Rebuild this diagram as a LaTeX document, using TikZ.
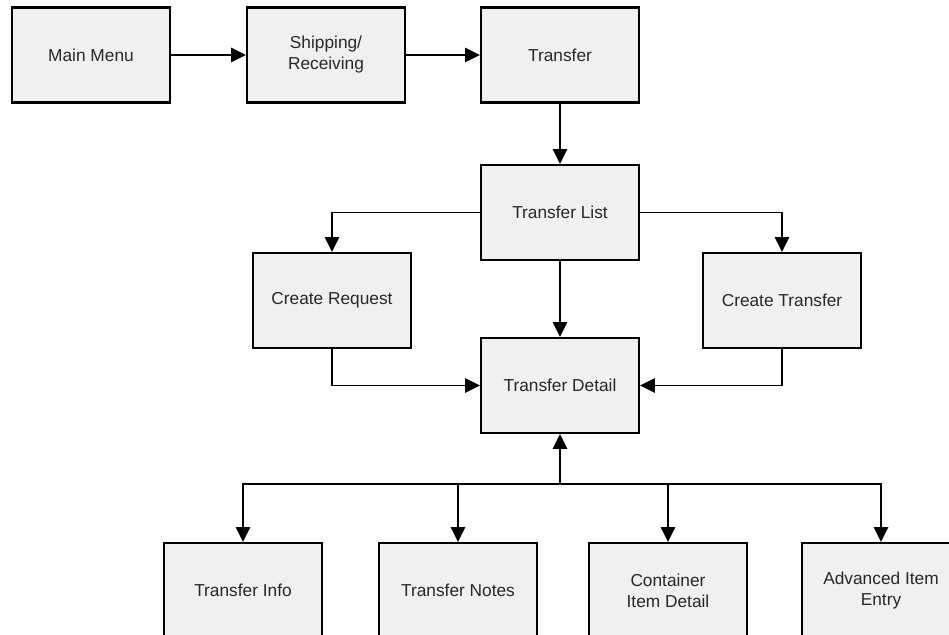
\documentclass[tikz,border=0pt]{standalone}
\usepackage{fontspec}
\setmainfont{Liberation Sans}
\usetikzlibrary{arrows.meta,calc}
\definecolor{boxfill}{RGB}{240,240,240}
\definecolor{boxtext}{RGB}{40,40,40}
\tikzset{
  box/.style={draw=black,fill=boxfill,line width=1.5pt,minimum width=3.95cm,
    minimum height=2.375cm,align=center,inner sep=0,text=boxtext,
    font=\fontsize{12.3}{14.9}\selectfont},
  link/.style={line width=1.4pt,-{Triangle[length=10.5pt,width=10pt]}}
}

\begin{document}
\begin{tikzpicture}[x=0.025cm,y=-0.025cm]
\useasboundingbox (0,0) rectangle (949,635);
\clip (0,0) rectangle (949,635);
% top row
\node[box] (menu)  at (91,55)  {Main Menu};
\node[box] (ship)  at (326,55) {Shipping/\\Receiving};
\node[box] (trans) at (560,55) {Transfer};
% middle
\node[box] (tlist)   at (560,212.5) {Transfer List};
\node[box] (creq)    at (332,300.5) {Create Request};
\node[box] (ctrans)  at (782,300.5) {Create Transfer};
\node[box] (tdetail) at (560,385.5) {Transfer Detail};
% bottom row
\node[box] (tinfo)  at (243,590.5) {Transfer Info};
\node[box] (tnotes) at (458,590.5) {Transfer Notes};
\node[box] (cont)   at (668,590.5) {Container\\Item Detail};
\node[box] (adv)    at (881,590.5) {Advanced Item\\Entry};
\coordinate (bus) at (560,484);

\draw[link] (menu.east) -- (ship.west);
\draw[link] (ship.east) -- (trans.west);
\draw[link] (trans.south) -- (tlist.north);
\draw[link] (tlist.west) -| (creq.north);
\draw[link] (tlist.east) -| (ctrans.north);
\draw[link] (tlist.south) -- (tdetail.north);
\draw[link] (creq.south) |- (tdetail.west);
\draw[link] (ctrans.south) |- (tdetail.east);
\draw[link] (bus) -- (tdetail.south);
\foreach \n in {tinfo,tnotes,cont,adv}
  \draw[link] (bus) -| (\n.north);
\end{tikzpicture}
\end{document}
